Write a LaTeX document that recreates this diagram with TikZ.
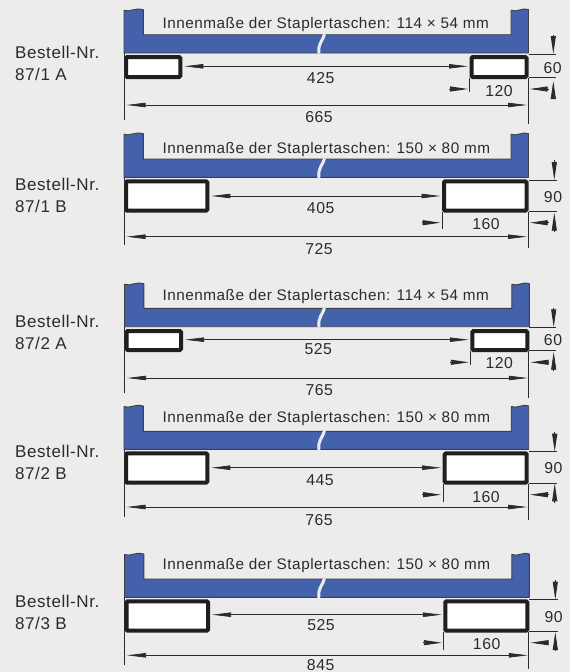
\documentclass[tikz,border=0pt]{standalone}
\usepackage{fontspec}
\setmainfont{Liberation Sans}
\newfontfamily\spacedfont[LetterSpace=3.4]{Liberation Sans}
\usetikzlibrary{arrows.meta}
\definecolor{pagebg}{HTML}{ECECEC}
\definecolor{palette}{HTML}{4362AB}
\definecolor{ink}{HTML}{2B2B2B}
\tikzset{
  txt/.style={inner sep=0pt,text=ink,font=\spacedfont\fontsize{15.3}{18}\selectfont},
  numtxt/.style={inner sep=0pt,text=ink,font=\spacedfont\fontsize{15.8}{18}\selectfont},
  ordertxt/.style={inner sep=0pt,text=ink,font=\spacedfont\fontsize{17}{20}\selectfont},
  body/.style={fill=palette,draw=ink!90,line width=0.9pt,line join=round},
  cutgap/.style={draw=pagebg,line width=3pt},
  pocket/.style={fill=white,draw=black!88,line width=4pt,rounded corners=1.2pt},
  dimline/.style={draw=ink,line width=0.75pt},
  tipped/.style={{Triangle[length=19pt,width=4.4pt]}-{Triangle[length=19pt,width=4.4pt]}},
  solotip/.style={-{Triangle[length=18pt,width=5pt]},draw=ink,line width=0.9pt},
}
\begin{document}
\begin{tikzpicture}[x=1pt,y=-1pt]
\useasboundingbox[fill=pagebg] (0,0) rectangle (570,672);
\foreach \n/\code/\ya/\yb/\xl/\xr/\pT/\pF/\pB/\bt/\bb/\lx/\rx/\dy/\ty/\lend/\rend/\sy/\send/\inner/\iy/\da/\dax/\day/\tot/\totx/\toty/\sm/\smx/\smy/\vx/\vta/\vtb/\vba/\vbb/\et/\eb/\vt/\vtx/\vty in {
a/1 A/52/74.5/124/528.5/8.7/34.7/53/55/79/182.3/469.5/66.3/105/120/124/89/92/114 × 54/25/425/320.7/78.3/665/319/116.7/120/499/91/553.3/35/54/81/98/54.7/77.7/60/552.7/68,
b/1 B/184/206.5/124/528.5/132.7/159/177.3/179.3/212.7/209.3/442/196/236.7/245/248/222.7/229.3/150 × 80/149.2/405/320.7/207.7/725/319/248.7/160/486/224/554.3/160/180/212.7/231.7/180/211.3/90/553/196.7,
c/2 A/321/343.5/124.5/529.3/282.7/308.3/326.7/329/352/183/470.3/339.7/378/393.3/397.7/362.3/365.3/114 × 54/296.2/525/318.3/349.3/765/319.3/390/120/499.3/363.3/553.7/308/327.3/351.7/371/327.3/350.3/60/553/340,
d/2 B/451/473.5/124/528.7/405/431.3/449.3/451.3/484.7/209.3/442.7/467.7/507/516.7/520/494.7/501.7/150 × 80/418.2/445/320/480/765/319/520/160/486/496.7/554.7/432.3/451.7/483.3/503.3/451.7/483/90/553.3/467.7,
e/3 B/601/623.5/124.5/529.3/553/579/597.3/599.3/632.7/210/443.3/614.7/655.3/664.7/668.7/642.7/649.7/150 × 80/565.2/525/321/625.3/845/320.7/665/160/486.7/643.7/555.3/580.3/599.7/632/651.3/599.7/631.3/90/553.7/617.3%
} {
  % order labels
  \node[ordertxt,anchor=west] (lab\n a) at (15,\ya) {Bestell-Nr.};
  \node[ordertxt,anchor=west] (lab\n b) at (15,\yb) {87/\code};
  % blue beam
  \path[body] (\xl,\pT+1.5) .. controls (\xl+6,\pT+4) and (\xl+10,\pT-1.5) .. (\xl+19.3,\pT+1)
    -- (\xl+19.3,\pF) -- (\xr-17.5,\pF) -- (\xr-17.5,\pT+1.5)
    .. controls (\xr-11,\pT+4) and (\xr-7,\pT-1.5) .. (\xr,\pT+1) -- (\xr,\pB) -- (\xl,\pB) -- cycle;
  \draw[cutgap] (324.5,\pF-0.5) .. controls (323,\pF+6) and (317.5,\pF+9) .. (319,\pB+0.5);
  \node[txt,anchor=west] (in\n) at (162.3,\iy) {Innenmaße der Staplertaschen: \inner\ mm};
  % pockets
  \draw[pocket] (\xl+2,\bt+2) rectangle (\lx-2,\bb-2);
  \draw[pocket] (\rx+2,\bt+2) rectangle (\xr-2,\bb-2);
  % dimension anchors
  \coordinate (l\n) at (\lx+2,\dy);
  \coordinate (r\n) at (\rx-1.5,\dy);
  \coordinate (tl\n) at (\xl+2.5,\ty);
  \coordinate (tr\n) at (\xr-1.5,\ty);
  \coordinate (el\n a) at (\xl,\pB);
  \coordinate (el\n b) at (\xl,\lend);
  \coordinate (er\n a) at (\xr-0.5,\bb-1);
  \coordinate (er\n b) at (\xr-0.5,\rend);
  \coordinate (es\n a) at (\rx+0.3,\bb-1);
  \coordinate (es\n b) at (\rx+0.3,\send);
  \coordinate (hs\n a) at (\rx-20.5,\sy);
  \coordinate (hs\n b) at (\rx-1.5,\sy);
  \coordinate (hs\n c) at (\xr+20,\sy);
  \coordinate (hs\n d) at (\xr+1.2,\sy);
  \coordinate (vt\n a) at (\vx,\vta);
  \coordinate (vt\n b) at (\vx,\vtb);
  \coordinate (vb\n a) at (\vx,\vbb);
  \coordinate (vb\n b) at (\vx,\vba);
  \coordinate (et\n a) at (\xr,\et);
  \coordinate (et\n b) at (\vx+2.5,\et);
  \coordinate (eb\n a) at (\xr,\eb);
  \coordinate (eb\n b) at (\vx+2.5,\eb);
  % dimension lines
  \draw[dimline,tipped] (l\n) -- (r\n);
  \draw[dimline,tipped] (tl\n) -- (tr\n);
  \draw[dimline] (el\n a) -- (el\n b);
  \draw[dimline] (er\n a) -- (er\n b);
  \draw[dimline] (es\n a) -- (es\n b);
  \draw[dimline] (et\n a) -- (et\n b);
  \draw[dimline] (eb\n a) -- (eb\n b);
  \draw[solotip] (hs\n a) -- (hs\n b);
  \draw[solotip] (hs\n c) -- (hs\n d);
  \draw[solotip] (vt\n a) -- (vt\n b);
  \draw[solotip] (vb\n a) -- (vb\n b);
  % numbers
  \node[numtxt] (da\n) at (\dax,\day) {\da};
  \node[numtxt] (to\n) at (\totx,\toty) {\tot};
  \node[numtxt] (sm\n) at (\smx,\smy) {\sm};
  \node[numtxt] (vn\n) at (\vtx,\vty) {\vt};
}
\end{tikzpicture}
\end{document}
